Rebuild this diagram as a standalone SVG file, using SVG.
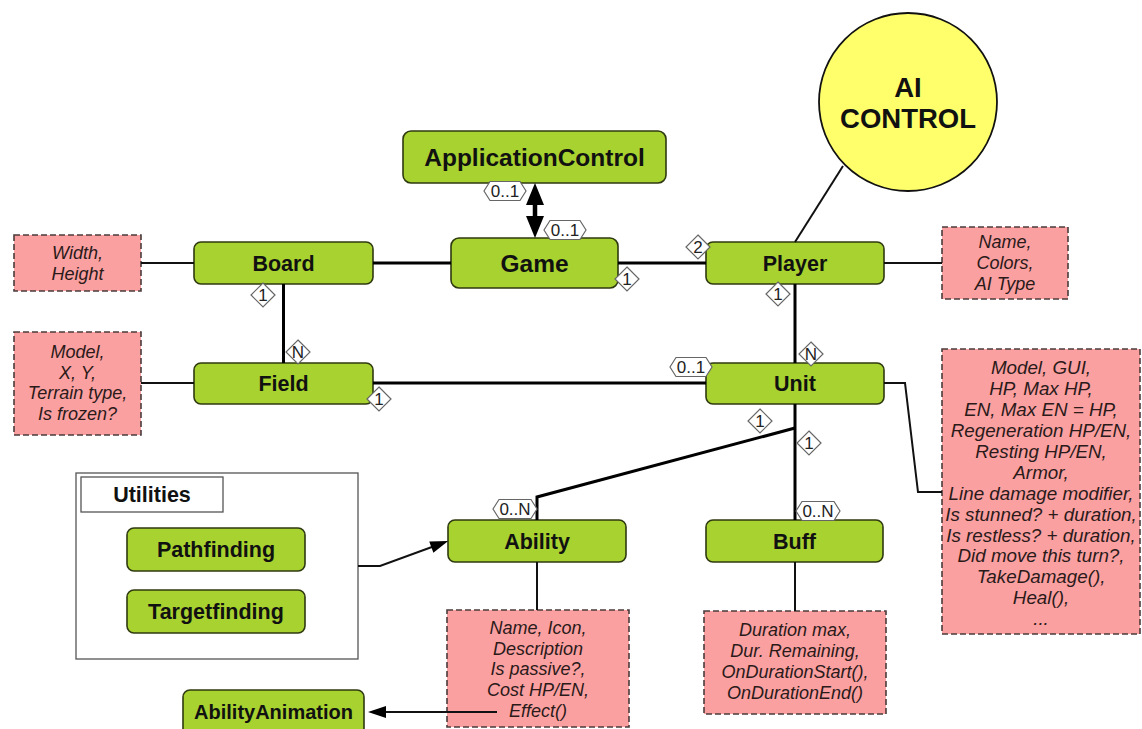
<svg xmlns="http://www.w3.org/2000/svg" width="1142" height="729" viewBox="0 0 1142 729">
  <defs>
    <style>
      .cls { fill: #a8d22f; stroke: #2f3a10; stroke-width: 1.6; }
      .cls-t { font-family: "Liberation Sans", Arial, sans-serif; font-weight: bold; font-size: 21.5px; fill: #111; text-anchor: middle; }
      .big { font-size: 24.5px; }
      .note { fill: #fba0a0; stroke: #4b3b3b; stroke-width: 1.6; stroke-dasharray: 6 3; }
      .note-t { font-family: "Liberation Sans", Arial, sans-serif; font-style: italic; font-size: 18px; fill: #2a1a1a; text-anchor: middle; }
      .assoc { fill: none; stroke: #000; stroke-width: 3; }
      .link { fill: none; stroke: #111; stroke-width: 2; }
      .mult { fill: #fff; stroke: #666; stroke-width: 1.2; }
      .mult-t { font-family: "Liberation Sans", Arial, sans-serif; font-size: 17px; fill: #222; text-anchor: middle; }
    </style>
    <marker id="head" markerUnits="userSpaceOnUse" markerWidth="20" markerHeight="14" viewBox="0 0 18 14" refX="5" refY="7" orient="auto">
      <path d="M0,1 L18,7 L0,13 z" fill="#000"/>
    </marker>
    <marker id="headBig" markerUnits="userSpaceOnUse" markerWidth="22" markerHeight="20" viewBox="0 0 22 20" refX="5" refY="10" orient="auto-start-reverse">
      <path d="M0,1 L22,10 L0,19 z" fill="#000"/>
    </marker>
  </defs>

  <rect width="1142" height="729" fill="#fff"/>

  <!-- utilities package frame -->
  <g id="utilities">
    <rect x="76" y="473" width="282" height="186" fill="#fff" stroke="#555" stroke-width="1.3"/>
    <rect x="81" y="477" width="142" height="35" fill="#fff" stroke="#555" stroke-width="1.3"/>
    <text class="cls-t" x="152" y="502">Utilities</text>
  </g>

  <!-- notes -->
  <g id="note-board">
    <rect class="note" x="14" y="235" width="127" height="56"/>
    <text class="note-t" x="77.5" y="259">Width,</text>
    <text class="note-t" x="77.5" y="279.5">Height</text>
  </g>
  <g id="note-field">
    <rect class="note" x="14" y="332" width="127" height="103"/>
    <text class="note-t" x="77.5" y="358">Model,</text>
    <text class="note-t" x="77.5" y="378.5">X, Y,</text>
    <text class="note-t" x="77.5" y="399">Terrain type,</text>
    <text class="note-t" x="77.5" y="419.5">Is frozen?</text>
  </g>
  <g id="note-player">
    <rect class="note" x="942" y="227" width="126" height="72"/>
    <text class="note-t" x="1005" y="248">Name,</text>
    <text class="note-t" x="1005" y="269">Colors,</text>
    <text class="note-t" x="1005" y="290">AI Type</text>
  </g>
  <g id="note-unit">
    <rect class="note" x="942" y="349" width="198" height="285"/>
    <g style="font-size:18.8px">
      <text class="note-t" x="1041" y="374.3" style="font-size:18.8px">Model, GUI,</text>
      <text class="note-t" x="1041" y="395.2" style="font-size:18.8px">HP, Max HP,</text>
      <text class="note-t" x="1041" y="416.1" style="font-size:18.8px">EN, Max EN = HP,</text>
      <text class="note-t" x="1041" y="437" style="font-size:18.8px">Regeneration HP/EN,</text>
      <text class="note-t" x="1041" y="457.9" style="font-size:18.8px">Resting HP/EN,</text>
      <text class="note-t" x="1041" y="478.8" style="font-size:18.8px">Armor,</text>
      <text class="note-t" x="1041" y="499.7" style="font-size:18.8px">Line damage modifier,</text>
      <text class="note-t" x="1041" y="520.6" style="font-size:18.8px">Is stunned? + duration,</text>
      <text class="note-t" x="1041" y="541.5" style="font-size:18.8px">Is restless? + duration,</text>
      <text class="note-t" x="1041" y="562.4" style="font-size:18.8px">Did move this turn?,</text>
      <text class="note-t" x="1041" y="583.3" style="font-size:18.8px">TakeDamage(),</text>
      <text class="note-t" x="1041" y="604.2" style="font-size:18.8px">Heal(),</text>
      <text class="note-t" x="1041" y="625" style="font-size:18.8px">...</text>
    </g>
  </g>
  <g id="note-ability">
    <rect class="note" x="447" y="610" width="182" height="117"/>
    <text class="note-t" x="538" y="634">Name, Icon,</text>
    <text class="note-t" x="538" y="654.7">Description</text>
    <text class="note-t" x="538" y="675.4">Is passive?,</text>
    <text class="note-t" x="538" y="696">Cost HP/EN,</text>
    <text class="note-t" x="538" y="716.8">Effect()</text>
  </g>
  <g id="note-buff">
    <rect class="note" x="704" y="611" width="182" height="103"/>
    <text class="note-t" x="795" y="636">Duration max,</text>
    <text class="note-t" x="795" y="657">Dur. Remaining,</text>
    <text class="note-t" x="795" y="678">OnDurationStart(),</text>
    <text class="note-t" x="795" y="699">OnDurationEnd()</text>
  </g>

  <!-- AI control circle -->
  <g id="ai-control">
    <circle cx="908" cy="102" r="89" fill="#ffff6b" stroke="#111" stroke-width="1.8"/>
    <text x="908" y="97" font-family="Liberation Sans, Arial, sans-serif" font-weight="bold" font-size="27.5" text-anchor="middle" fill="#111">AI</text>
    <text x="908" y="128" font-family="Liberation Sans, Arial, sans-serif" font-weight="bold" font-size="27.5" text-anchor="middle" fill="#111">CONTROL</text>
  </g>

  <!-- classes -->
  <g id="application-control">
    <rect class="cls" x="403" y="131" width="263" height="52" rx="8"/>
    <text class="cls-t big" x="534.5" y="165.5">ApplicationControl</text>
  </g>
  <g id="game">
    <rect class="cls" x="451" y="238" width="167" height="50" rx="8"/>
    <text class="cls-t big" x="534.5" y="271.5">Game</text>
  </g>
  <g id="board">
    <rect class="cls" x="194" y="242" width="179" height="42" rx="7"/>
    <text class="cls-t" x="283.5" y="270.5">Board</text>
  </g>
  <g id="player">
    <rect class="cls" x="706" y="242" width="178" height="42" rx="7"/>
    <text class="cls-t" x="795" y="270.5">Player</text>
  </g>
  <g id="field">
    <rect class="cls" x="194" y="363" width="179" height="41" rx="7"/>
    <text class="cls-t" x="283.5" y="391">Field</text>
  </g>
  <g id="unit">
    <rect class="cls" x="706" y="363" width="178" height="41" rx="7"/>
    <text class="cls-t" x="795" y="391">Unit</text>
  </g>
  <g id="ability">
    <rect class="cls" x="448" y="520" width="178" height="42" rx="7"/>
    <text class="cls-t" x="537" y="548.5">Ability</text>
  </g>
  <g id="buff">
    <rect class="cls" x="706" y="520" width="177" height="42" rx="7"/>
    <text class="cls-t" x="794.5" y="548.5">Buff</text>
  </g>
  <g id="pathfinding">
    <rect class="cls" x="127" y="528" width="178" height="43" rx="7"/>
    <text class="cls-t" x="216" y="557">Pathfinding</text>
  </g>
  <g id="targetfinding">
    <rect class="cls" x="127" y="590" width="178" height="43" rx="7"/>
    <text class="cls-t" x="216" y="619">Targetfinding</text>
  </g>
  <g id="ability-animation">
    <rect class="cls" x="183" y="690" width="181" height="46" rx="7"/>
    <text class="cls-t" x="273.5" y="718.5" style="font-size:20px">AbilityAnimation</text>
  </g>

  <!-- connectors -->
  <g id="connectors">
    <line x1="535" y1="200" x2="535" y2="221" stroke="#000" stroke-width="4.5" marker-start="url(#headBig)" marker-end="url(#headBig)"/>
    <path class="assoc" d="M373,263 H451"/>
    <path class="assoc" d="M618,263 H706"/>
    <path class="assoc" d="M283.5,284 V363"/>
    <path class="assoc" d="M373,383 H706"/>
    <path class="assoc" d="M795,284 V363"/>
    <path class="assoc" d="M795,404 V520"/>
    <path class="assoc" d="M795,428 L537,497 V520"/>
    <path class="link" d="M141,263 H194"/>
    <path class="link" d="M141,383 H194"/>
    <path class="link" d="M884,263 H942"/>
    <path class="link" d="M884,383 H905 L918,492 H942"/>
    <path class="link" d="M537,562 V610"/>
    <path class="link" d="M795,562 V611"/>
    <path class="link" d="M843,166 L795,242" stroke-width="1.8"/>
    <path class="link" d="M358,566 H380 L436,545.5" marker-end="url(#head)"/>
    <path class="link" d="M497,712 H381" marker-end="url(#head)"/>

    <!-- multiplicities -->
    <g id="mult-appcontrol">
      <polygon class="mult" points="484,191 490,181.5 520,181.5 526,191 520,200.5 490,200.5"/>
      <text class="mult-t" x="505" y="197">0..1</text>
    </g>
    <g id="mult-game-top">
      <polygon class="mult" points="544,230 550,220.5 580,220.5 586,230 580,239.5 550,239.5"/>
      <text class="mult-t" x="565" y="236">0..1</text>
    </g>
    <g id="mult-game-player">
      <polygon class="mult" points="627,267 639,279 627,291 615,279"/>
      <text class="mult-t" x="627" y="285">1</text>
    </g>
    <g id="mult-player-game">
      <polygon class="mult" points="698,235 710,247 698,259 686,247"/>
      <text class="mult-t" x="698" y="253">2</text>
    </g>
    <g id="mult-board">
      <polygon class="mult" points="263,283 275,295 263,307 251,295"/>
      <text class="mult-t" x="263" y="301">1</text>
    </g>
    <g id="mult-field-board">
      <polygon class="mult" points="298,340 310,352 298,364 286,352"/>
      <text class="mult-t" x="298" y="358">N</text>
    </g>
    <g id="mult-field-unit">
      <polygon class="mult" points="379,387 391,399 379,411 367,399"/>
      <text class="mult-t" x="379" y="405">1</text>
    </g>
    <g id="mult-unit-field">
      <polygon class="mult" points="670,367 676,357.5 706,357.5 712,367 706,376.5 676,376.5"/>
      <text class="mult-t" x="691" y="373">0..1</text>
    </g>
    <g id="mult-player-unit">
      <polygon class="mult" points="778,282 790,294 778,306 766,294"/>
      <text class="mult-t" x="778" y="300">1</text>
    </g>
    <g id="mult-unit-player">
      <polygon class="mult" points="811,342 823,354 811,366 799,354"/>
      <text class="mult-t" x="811" y="360">N</text>
    </g>
    <g id="mult-unit-ability">
      <polygon class="mult" points="760,409 772,421 760,433 748,421"/>
      <text class="mult-t" x="760" y="427">1</text>
    </g>
    <g id="mult-unit-buff">
      <polygon class="mult" points="809,431 821,443 809,455 797,443"/>
      <text class="mult-t" x="809" y="449">1</text>
    </g>
    <g id="mult-ability">
      <polygon class="mult" points="493,509 499,499.5 531,499.5 537,509 531,518.5 499,518.5"/>
      <text class="mult-t" x="515" y="515">0..N</text>
    </g>
    <g id="mult-buff">
      <polygon class="mult" points="796,511 802,501.5 834,501.5 840,511 834,520.5 802,520.5"/>
      <text class="mult-t" x="818" y="517">0..N</text>
    </g>
  </g>
</svg>
